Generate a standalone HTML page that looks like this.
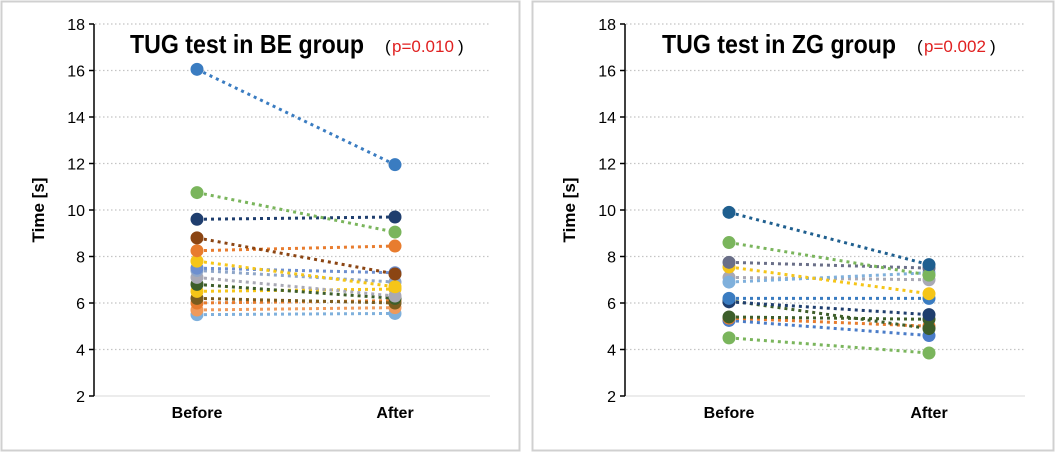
<!DOCTYPE html><html><head><style>body{margin:0;background:#fff}svg{display:block;font-family:"Liberation Sans",sans-serif}</style></head><body>
<svg width="1055" height="452" xmlns="http://www.w3.org/2000/svg">
<rect x="1.5" y="1.5" width="518" height="449" fill="#fff" stroke="#d0d0d0" stroke-width="2"/>
<rect x="532.5" y="1.5" width="521" height="449" fill="#fff" stroke="#d0d0d0" stroke-width="2"/>
<script>
const ns="http://www.w3.org/2000/svg";
const svg=document.querySelector('svg');
function el(t,a,txt,par){const e=document.createElementNS(ns,t);for(const k in a)e.setAttribute(k,a[k]);if(txt)e.textContent=txt;(par||svg).appendChild(e);return e;}
function Y(v){return 24+(18-v)*23.25;}
function panel(ax,bx,fx,gx,title,p,tx,data){
 for(let v=2;v<=18;v+=2){const y=Y(v);
  if(v>2)el('line',{x1:ax+1,x2:gx,y1:y,y2:y,stroke:'#c4c4c4','stroke-width':1.2,'stroke-dasharray':'1.5 2.5'});
  else el('line',{x1:ax,x2:gx,y1:y,y2:y,stroke:'#d9d9d9','stroke-width':1});
  el('line',{x1:ax-5,x2:ax,y1:y,y2:y,stroke:'#000','stroke-width':1.5});
  el('text',{x:ax-9,y:y+6,'font-size':16,'text-anchor':'end',fill:'#000'},String(v));}
 el('line',{x1:ax,x2:ax,y1:Y(18),y2:Y(2),stroke:'#000','stroke-width':1.5});
 el('text',{x:tx,y:53,'font-size':26,'font-weight':'bold',fill:'#000',textLength:234,lengthAdjust:'spacingAndGlyphs'},title);
 el('text',{x:tx+255,y:52,'font-size':17,fill:'#000'},'(');
 el('text',{x:tx+262,y:52,'font-size':17,fill:'#e02020'},p);
 el('text',{x:tx+328,y:52,'font-size':17,fill:'#000'},')');
 el('text',{'font-size':17,'font-weight':'bold',transform:`translate(${ax-50},210) rotate(-90)`,'text-anchor':'middle',fill:'#000',x:0,y:0},'Time [s]');
 el('text',{x:bx,y:418,'font-size':16,'font-weight':'bold','text-anchor':'middle'},'Before');
 el('text',{x:fx,y:418,'font-size':16,'font-weight':'bold','text-anchor':'middle'},'After');
 for(const [a,b,c] of data){el('line',{x1:bx,x2:fx,y1:Y(a),y2:Y(b),stroke:c,'stroke-width':3,'stroke-dasharray':'3 4'});}
 for(const [a,b,c] of data){el('circle',{cx:bx,cy:Y(a),r:6.5,fill:c});el('circle',{cx:fx,cy:Y(b),r:6.5,fill:c});}
}
panel(94,197,395,490,'TUG test in BE group','p=0.010',130,[
[5.5,5.55,'#7fb0dc'],[5.7,5.8,'#ef9a5b'],[6.0,6.1,'#e87c2e'],[6.2,6.0,'#7a5c1e'],[6.5,6.6,'#f5c518'],
[6.8,6.2,'#3d5e2a'],[7.1,6.3,'#a9a9b5'],[7.4,6.9,'#8fa6c8'],[7.5,7.3,'#6d8fcf'],[7.8,6.7,'#f5c518'],
[8.25,8.45,'#e87c2e'],[8.8,7.25,'#8b4513'],[9.6,9.7,'#1f3e6e'],[10.75,9.05,'#7ab55c'],[16.05,11.95,'#3a7cc1']]);
panel(625,729,929,1025,'TUG test in ZG group','p=0.002',662,[
[4.5,3.85,'#7ab55c'],[5.25,4.6,'#4a7cc8'],[5.35,5.0,'#e87c2e'],[5.4,5.3,'#3d5e2a'],[6.1,4.9,'#3d5e2a'],
[6.05,5.5,'#1f3e6e'],[6.2,6.2,'#3a7cc1'],[7.1,7.0,'#a9a9b5'],[6.9,7.3,'#7fb0dc'],[7.55,6.4,'#f5c518'],
[7.75,7.5,'#6a6f88'],[8.6,7.2,'#7ab55c'],[9.9,7.65,'#1f5f8f']]);
</script>
</svg></body></html>
